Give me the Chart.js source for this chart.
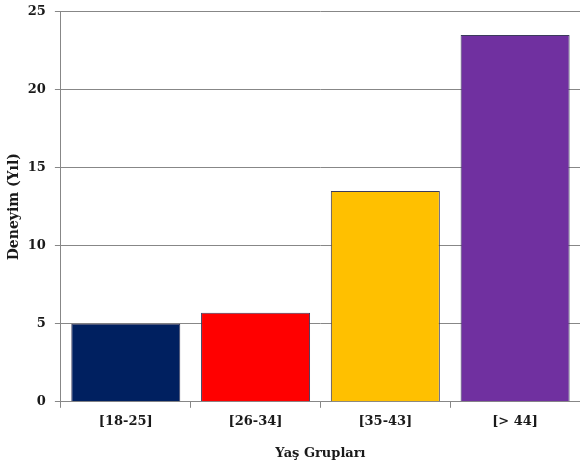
<!DOCTYPE html>
<html>
<head>
<meta charset="utf-8">
<script src="https://cdn.jsdelivr.net/npm/chart.js@4"></script>
<style>
	html, body { margin: 0; padding: 0; background: #fff; }
	#wrap { width: 580px; height: 466px; }
</style>
</head>
<body>
<div id="wrap"><canvas id="chart" width="580" height="466"></canvas></div>
<script>
'use strict';

var categories = ['[18-25]', '[26-34]', '[35-43]', '[> 44]'];
var values = [5.0, 5.7, 13.5, 23.5];
var barColors = ['#002060', '#FF0000', '#FFC000', '#7030A0'];
var yTicks = [0, 5, 10, 15, 20, 25];

var fontFamily = '"DejaVu Serif", "Liberation Serif", serif';
var axisGray = '#878787';
var textColor = '#1a1a1a';

var chart = new Chart(document.getElementById('chart').getContext('2d'), {
	type: 'bar',
	data: {
		labels: categories,
		datasets: [{
			data: values,
			backgroundColor: barColors,
			borderColor: '#3b3b5c',
			borderWidth: 1,
			barPercentage: 0.84,
			categoryPercentage: 1
		}]
	},
	options: {
		responsive: false,
		animation: false,
		layout: {padding: {top: 0, right: 0, left: 6, bottom: 5}},
		plugins: {
			legend: {display: false},
			tooltip: {enabled: false}
		},
		scales: {
			x: {
				grid: {
					display: true,
					drawOnChartArea: false,
					color: axisGray,
					tickLength: 6,
					offset: true
				},
				border: {color: axisGray, width: 1},
				ticks: {
					color: textColor,
					padding: 6,
					font: {family: fontFamily, size: 13, weight: 'bold'}
				},
				title: {
					display: true,
					text: 'Yaş Grupları',
					color: textColor,
					padding: {top: 10, bottom: 0},
					font: {family: fontFamily, size: 13, weight: 'bold'}
				}
			},
			y: {
				min: 0,
				max: 25,
				afterBuildTicks: function (scale) {
					scale.ticks = yTicks.map(function (v) { return {value: v}; });
				},
				grid: {
					color: axisGray,
					tickLength: 6
				},
				border: {color: axisGray, width: 1},
				ticks: {
					color: textColor,
					padding: 9,
					// small line height keeps the top tick label from pushing the plot down
					font: {family: fontFamily, size: 13, weight: 'bold', lineHeight: 0.4}
				},
				title: {
					display: true,
					text: 'Deneyim (Yıl)',
					color: textColor,
					padding: {top: 0, bottom: -4},
					font: {family: fontFamily, size: 14, weight: 'bold'}
				}
			}
		}
	}
});
</script>
</body>
</html>
